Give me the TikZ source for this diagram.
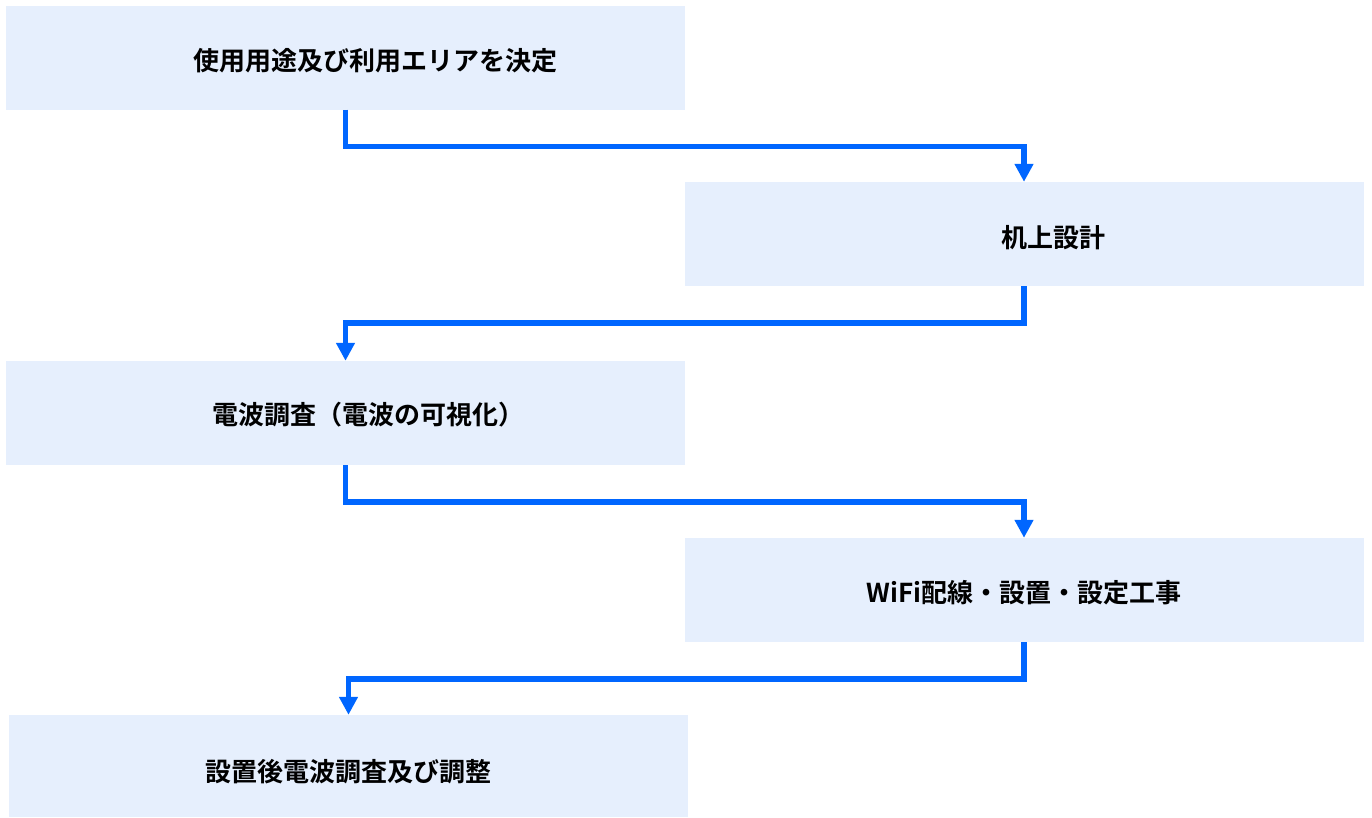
\documentclass[tikz,border=0pt]{standalone}
\usepackage{fontspec}
\setmainfont{Noto Sans CJK JP}[BoldFont={* Bold}]
\newfontfamily\jpb{Noto Sans CJK JP Bold}
\usetikzlibrary{arrows.meta}
\definecolor{boxfill}{HTML}{E6EFFD}
\definecolor{flowblue}{HTML}{0066FF}
\begin{document}
\begin{tikzpicture}[x=1pt,y=-1pt,
  stepbox/.style={draw=none,fill=boxfill,rectangle,inner sep=0pt,minimum width=679pt,minimum height=104pt},
  steptext/.style={font=\jpb\fontsize{26}{30}\selectfont,text=black,inner sep=0pt},
  flow/.style={draw=flowblue,line width=5.5pt,line cap=butt,line join=miter,-{Triangle[length=18pt,width=18pt]}}]
\useasboundingbox (0,0) rectangle (1372,817);
\node[stepbox] (b1) at (345.5,57.5) {};
\node[stepbox] (b2) at (1024,234) {};
\node[stepbox] (b3) at (345.5,413) {};
\node[stepbox] (b4) at (1024,590) {};
\node[stepbox,minimum height=102pt] (b5) at (348.5,766) {};
\node[steptext] (t1) at (375,61) {使用用途及び利用エリアを決定};
\node[steptext] (t2) at (1053,238) {机上設計};
\node[steptext] (t3) at (368,415) {電波調査（電波の可視化）};
\node[steptext] (t4) at (1024,593) {WiFi配線・設置・設定工事};
\node[steptext] (t5) at (348,772) {設置後電波調査及び調整};
\draw[flow] (b1.south) -- ++(0,37) -| (b2.north);
\draw[flow] (b2.south) -- ++(0,37) -| (b3.north);
\draw[flow] (b3.south) -- ++(0,37) -| (b4.north);
\draw[flow] (b4.south) -- ++(0,37) -| (b5.north);
\end{tikzpicture}
\end{document}
